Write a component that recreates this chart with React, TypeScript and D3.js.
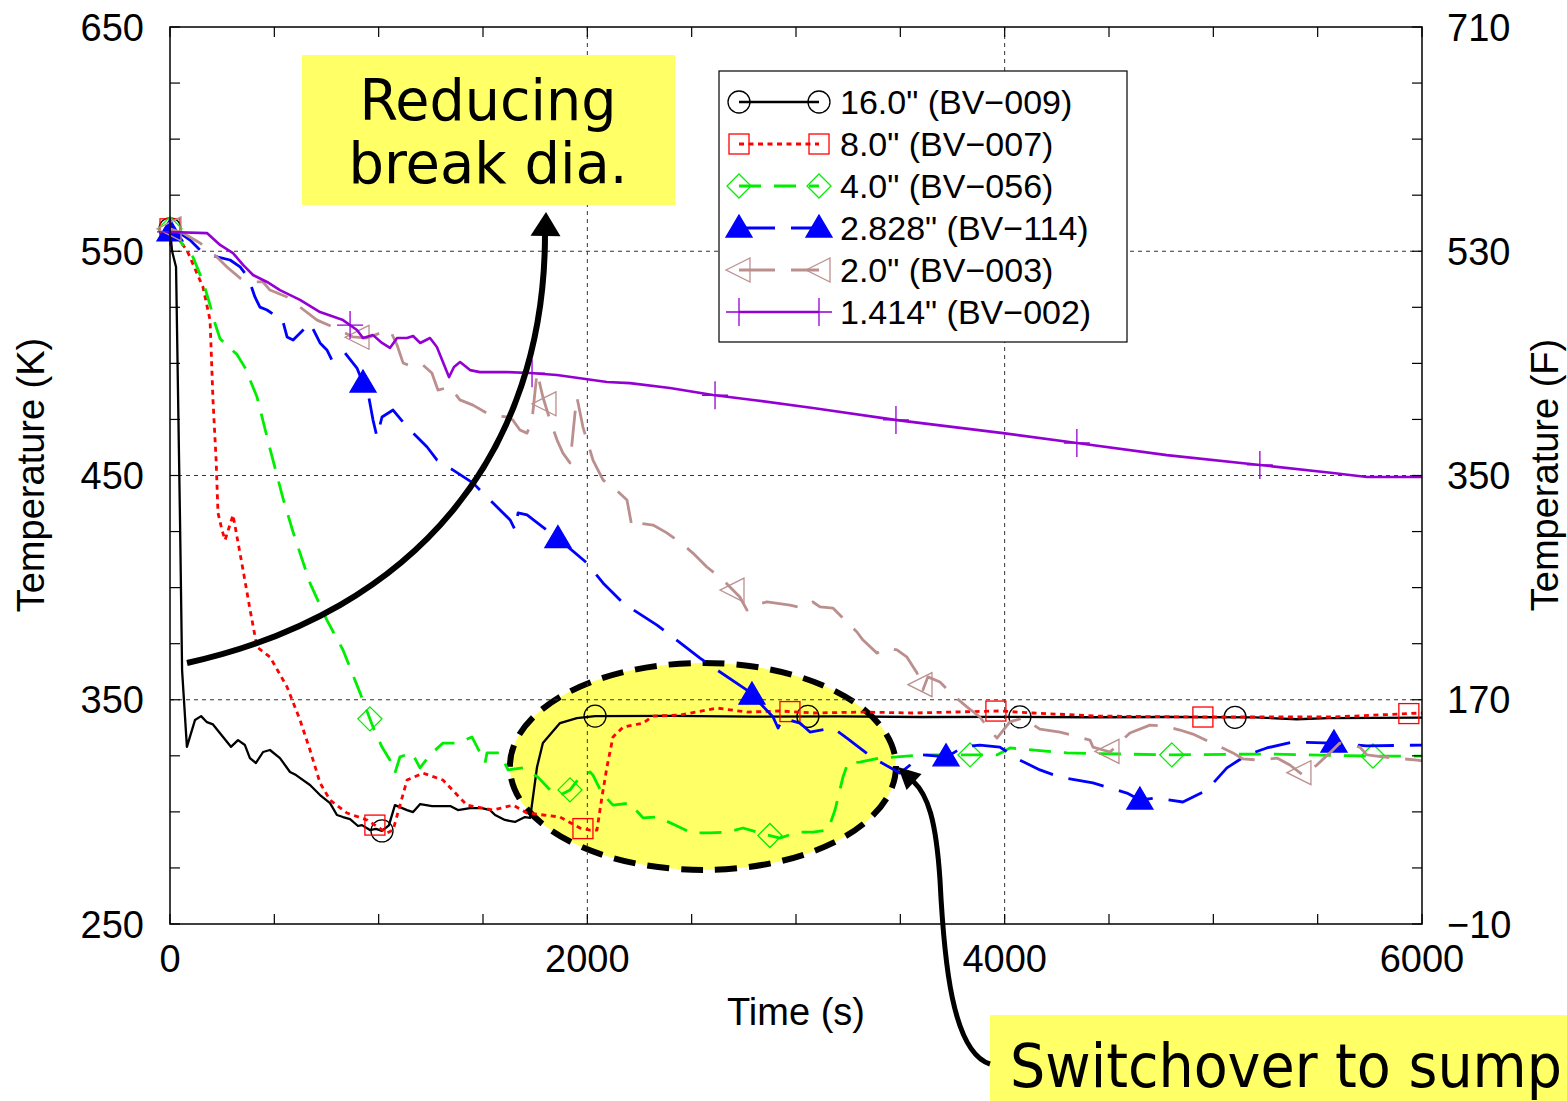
import React from 'react';
import * as d3 from 'd3';

type Pt = [number, number];

// Time (s) vs temperature (K) for each break size
const bv009: Pt[] = [[0,560],[10,550],[29,543],[48,430],[58,363],[81,329],[120,341],[149,342.7],[177,340],[206,339],[292,329],[326,332],[359,329.8],[383,324],[412,321.8],[446,326.7],[479,327.6],[527,324],[575,317.8],[604,316.4],[671,312],[719,307.5],[767,303.9],[800,298.6],[829,297.7],[863,296.8],[901,293.7],[920,294.1],[958,291.9],[987,292.4],[1016,291.5],[1049,294],[1078,303],[1136,300.8],[1165,299.9],[1199,303.5],[1256,302.6],[1343,302.6],[1380,300.8],[1438,301.7],[1495,301.7],[1534,300.8],[1558,298.6],[1605,296.4],[1653,295.5],[1701,297.7],[1726,297.3],[1759,320],[1787,330.7],[1869,339.6],[1950,341.8],[2037,342.7],[2400,342.8],[2800,342.5],[3200,342.6],[3600,342.3],[4000,342.4],[4400,342.2],[4800,342.3],[5200,342.1],[5400,341.3],[5550,341.8],[6000,342]];
const bv007: Pt[] = [[0,560],[81,550.5],[158,534],[192,519.3],[206,483.7],[221,456.9],[230,433.3],[249,425.7],[264,421.2],[302,432.4],[350,407.9],[384,390],[417,373.5],[479,369.1],[561,355.7],[623,341],[671,327.6],[719,312.9],[767,305.3],[848,299.5],[944,296.4],[1040,290.6],[1069,291.9],[1136,314.2],[1212,317.3],[1308,314.2],[1423,303],[1548,300.8],[1644,303],[1711,299.5],[1869,297.7],[1965,292.8],[2013,291.9],[2046,291.9],[2070,306.6],[2094,320],[2123,333.4],[2171,337.8],[2267,339.6],[2315,342.7],[2444,343.2],[2621,346.3],[2765,344.5],[2923,345],[3081,344.1],[3321,344.5],[3560,344.1],[3977,345],[4135,344.1],[4456,342.7],[4935,342.3],[5573,342.3],[6000,344.1]];
const bv056: Pt[] = [[0,560],[110,547.4],[160,536],[192,526],[215,518],[240,511],[273,508],[321,504],[360,498],[417,485],[479,462],[541,440],[589,425],[671,402],[752,385.5],[829,372.2],[911,353],[973,337.8],[1016,328.9],[1054,323.1],[1078,317.3],[1102,324.5],[1160,326.3],[1198,319.6],[1246,325.4],[1308,330.7],[1380,330.7],[1447,333.4],[1486,326.3],[1510,321.8],[1519,326.3],[1581,326.3],[1620,318.7],[1692,319.6],[1763,315.5],[1830,308.9],[1869,307.5],[1917,309.8],[1965,315.5],[2013,317.8],[2027,316.4],[2070,308.4],[2123,303],[2204,303.9],[2267,297.3],[2338,297.7],[2420,294.1],[2501,290.6],[2588,290.6],[2674,291],[2746,292.8],[2827,290.6],[2923,288.3],[3009,291],[3081,291],[3153,291.9],[3187,300.8],[3225,315.5],[3249,321.8],[3306,322.2],[3402,324],[3484,324.5],[3608,325.4],[3723,325.4],[3963,325.4],[4025,328.5],[4298,326.3],[4777,325.4],[5256,325.8],[5735,324.9],[6000,324.9]];
const bv114: Pt[] = [[0,558.6],[48,558.1],[96,555],[153,549.7],[230,547.4],[288,546.1],[336,543],[374,538.5],[407,529.6],[431,525.1],[465,523.8],[513,520.7],[537,520.2],[561,511.8],[590,510.4],[638,514.9],[671,518],[719,509.1],[752,506],[776,501.5],[800,503.7],[839,504.6],[896,497.9],[925,491.2],[949,486.8],[973,474.7],[992,467.2],[1016,476.1],[1069,479.2],[1136,471.6],[1184,467.2],[1232,462.7],[1280,456.9],[1357,452.4],[1453,446.6],[1548,437.7],[1630,430.2],[1654,425.7],[1668,433.3],[1711,432.4],[1787,427],[1869,421.2],[1998,411],[2075,402.1],[2171,393.1],[2334,383.3],[2396,378.9],[2540,368.6],[2621,363.3],[2765,354.3],[2827,348.5],[2890,342.3],[2914,337.4],[2938,341.8],[3019,339.6],[3067,335.6],[3177,337.4],[3244,332.9],[3369,324],[3498,317.3],[3608,325.4],[3723,324.5],[3800,328.9],[3881,329.8],[3977,328.9],[4073,323.1],[4169,318.7],[4265,315.5],[4423,312.9],[4586,308.4],[4648,305.3],[4730,306.2],[4854,304.4],[4969,309.7],[5065,319.6],[5161,325.4],[5256,328.5],[5381,331.1],[5573,330.7],[5735,329.4],[6000,329.8]];
const bv003: Pt[] = [[0,560],[62,558.1],[144,553.7],[225,547.4],[273,543],[336,538],[398,536.3],[446,536.3],[479,532.7],[561,529.6],[623,525.1],[705,519.3],[781,516.2],[877,511.8],[944,511.3],[1006,513.5],[1054,514.9],[1088,508.2],[1117,500.2],[1164,498.4],[1212,499.3],[1255,495.7],[1284,488.1],[1342,489.5],[1389,483.7],[1452,481.4],[1533,477],[1614,476.1],[1643,474.7],[1677,470.3],[1711,468.9],[1735,474.7],[1759,496.1],[1787,485],[1821,474.7],[1855,465.8],[1883,460],[1917,455.6],[1941,477.9],[1950,485],[1979,471.6],[2027,456.9],[2075,448],[2123,444.9],[2190,439.1],[2214,427],[2238,428.8],[2315,427.9],[2381,424.4],[2444,420.3],[2506,415.4],[2573,409.2],[2650,403.4],[2731,395.8],[2765,390],[2794,392.2],[2861,393.6],[2971,392.2],[3029,390.9],[3081,393.6],[3115,391.4],[3177,390.9],[3225,386.4],[3292,380.2],[3321,376.6],[3388,370.8],[3436,373.1],[3484,372.2],[3532,369],[3580,361.9],[3608,354.3],[3632,360.2],[3690,357.9],[3752,352.1],[3819,346.8],[3881,342.3],[3929,336.5],[3963,332.9],[4025,340.1],[4087,341.8],[4169,336.9],[4265,335.6],[4409,332],[4423,328.9],[4505,326.7],[4600,335.2],[4696,338.7],[4758,338.3],[4840,336.5],[4902,334.7],[4984,331.1],[5094,326.3],[5142,323.6],[5223,323.1],[5305,324],[5367,320.9],[5430,316.4],[5496,320.9],[5558,326.3],[5606,330.7],[5702,328.9],[5736,325.4],[5812,324.5],[5975,323.1],[6000,322.7]];
const bv002: Pt[] = [[0,558.6],[177,558.1],[240,552.8],[302,549.2],[350,543.9],[398,539.4],[465,536.3],[527,532.7],[623,528.3],[719,522.9],[829,519.3],[896,514.9],[925,511.3],[973,512.6],[1016,509.1],[1054,506.9],[1088,511.3],[1136,511.3],[1165,512.2],[1199,509.1],[1246,511.3],[1279,507.3],[1337,493.9],[1361,498.4],[1390,500.6],[1438,497],[1485,496.1],[1615,496.1],[1725,495.7],[1854,494.8],[2094,491.7],[2204,491.2],[2396,489],[2602,485.9],[2794,483.7],[3081,480.1],[3484,474.7],[3992,468.9],[4346,464.5],[4777,459.1],[5223,454.7],[5573,451.1],[5736,449.3],[6000,449.3]];

// Times at which each curve carries a point symbol
const bv009Marks = [0, 1016, 2037, 3057, 4073, 5104];
const bv007Marks = [0, 982, 1979, 2971, 3958, 4950, 5937];
const bv056Marks = [0, 958, 1917, 2875, 3834, 4801, 5765];
const bv114Marks = [0, 925, 1859, 2789, 3719, 4648, 5578];
const bv003Marks = [0, 901, 1797, 2698, 3599, 4495, 5415];
const bv002Marks = [0, 863, 1735, 2612, 3479, 4346, 5223];

const timeLabels = [0, 2000, 4000, 6000];
const kelvinLabels = [250, 350, 450, 550, 650];
const fahrenheitLabels = [-10, 170, 350, 530, 710];
const gridTimes = [2000, 4000];
const gridKelvin = [350, 450, 550];

// Pump switchover window (time span and temperature span of the highlight)
const switchoverTime: [number, number] = [1629, 3479];
const switchoverKelvin: [number, number] = [274.1, 366.4];

type MarkerKind = 'circle' | 'square' | 'diamond' | 'triUp' | 'triLeft' | 'plus';

const series = [
  { name: '16.0" (BV\u2212009)', data: bv009, marks: bv009Marks, color: '#000000', dash: undefined, width: 2.3, marker: 'circle' as MarkerKind },
  { name: '8.0" (BV\u2212007)', data: bv007, marks: bv007Marks, color: '#ff0000', dash: '5,4.5', width: 2.8, marker: 'square' as MarkerKind },
  { name: '4.0" (BV\u2212056)', data: bv056, marks: bv056Marks, color: '#00ee00', dash: '22,13', width: 2.8, marker: 'diamond' as MarkerKind },
  { name: '2.828" (BV\u2212114)', data: bv114, marks: bv114Marks, color: '#0000ff', dash: '36,16', width: 2.8, marker: 'triUp' as MarkerKind },
  { name: '2.0" (BV\u2212003)', data: bv003, marks: bv003Marks, color: '#bc8f8f', dash: '36,16', width: 2.8, marker: 'triLeft' as MarkerKind },
  { name: '1.414" (BV\u2212002)', data: bv002, marks: bv002Marks, color: '#9400d3', dash: undefined, width: 2.6, marker: 'plus' as MarkerKind },
];

const W = 1567;
const H = 1101;
const xS = d3.scaleLinear().domain([0, 6000]).range([170, 1422]);
const yS = d3.scaleLinear().domain([250, 650]).range([924, 27]);
const fS = d3.scaleLinear().domain([-10, 710]).range([924, 27]);

const lineGen = d3.line<Pt>().x(d => xS(d[0])).y(d => yS(d[1]));
const byTime = d3.bisector((d: Pt) => d[0]);

function kelvinAt(data: Pt[], t: number): number {
  const i = byTime.right(data, t);
  if (i <= 0) return data[0][1];
  if (i >= data.length) return data[data.length - 1][1];
  const [t0, k0] = data[i - 1];
  const [t1, k1] = data[i];
  return k0 + ((k1 - k0) * (t - t0)) / (t1 - t0);
}

function Marker({ kind, x, y, color }: { kind: MarkerKind; x: number; y: number; color: string }) {
  const sw = 1.3;
  switch (kind) {
    case 'circle':
      return <circle cx={x} cy={y} r={11} fill="none" stroke={color} strokeWidth={sw} />;
    case 'square':
      return <rect x={x - 10} y={y - 10} width={20} height={20} fill="none" stroke={color} strokeWidth={sw} />;
    case 'diamond':
      return <polygon points={`${x},${y - 12} ${x + 12},${y} ${x},${y + 12} ${x - 12},${y}`} fill="none" stroke={color} strokeWidth={sw} />;
    case 'triUp':
      return <polygon points={`${x},${y - 13} ${x + 13},${y + 9} ${x - 13},${y + 9}`} fill={color} stroke={color} strokeWidth={sw} />;
    case 'triLeft':
      return <polygon points={`${x - 13},${y} ${x + 11},${y - 12} ${x + 11},${y + 12}`} fill="none" stroke={color} strokeWidth={sw} />;
    case 'plus':
      return <path d={`M${x - 13},${y}H${x + 13}M${x},${y - 14}V${y + 14}`} fill="none" stroke={color} strokeWidth={sw} />;
  }
}

function arrowHead(tip: [number, number], from: [number, number], len: number, half: number) {
  const dx = tip[0] - from[0];
  const dy = tip[1] - from[1];
  const n = Math.hypot(dx, dy);
  const ux = dx / n;
  const uy = dy / n;
  const bx = tip[0] - ux * len;
  const by = tip[1] - uy * len;
  const px = -uy * half;
  const py = ux * half;
  return `${tip[0]},${tip[1]} ${bx + px},${by + py} ${bx - px},${by - py}`;
}

export default function App() {
  const [x0, x1] = xS.range();
  const [yb, yt] = yS.range();
  const tickLen = 10;
  const minorK = d3.range(250, 651, 25);
  const minorT = d3.range(0, 6001, 500);
  const font = "'Liberation Sans', Arial, Helvetica, sans-serif";
  const calloutFont = "'DejaVu Sans Condensed', 'DejaVu Sans', Verdana, sans-serif";

  const ex0 = xS(switchoverTime[0]);
  const ex1 = xS(switchoverTime[1]);
  const ey0 = yS(switchoverKelvin[1]);
  const ey1 = yS(switchoverKelvin[0]);

  const legendX = 719;
  const legendY = 71;
  const legendW = 408;
  const legendH = 271;
  const rowH = 42;

  return (
    <svg
      width={W}
      height={H}
      viewBox={`0 0 ${W} ${H}`}
      style={{ position: 'absolute', left: 0, top: 0, display: 'block' }}
      fontFamily={font}
    >
      <rect width={W} height={H} fill="#ffffff" />

      {/* highlighted switchover window */}
      <ellipse
        cx={(ex0 + ex1) / 2}
        cy={(ey0 + ey1) / 2}
        rx={(ex1 - ex0) / 2}
        ry={(ey1 - ey0) / 2}
        fill="#ffff66"
        stroke="#000"
        strokeWidth={6}
        strokeDasharray="22,12"
      />

      {/* grid */}
      <g stroke="#333" strokeWidth={1} strokeDasharray="4,4" fill="none">
        {gridTimes.map(t => (
          <line key={`gx${t}`} x1={xS(t)} x2={xS(t)} y1={yt} y2={yb} />
        ))}
        {gridKelvin.map(k => (
          <line key={`gy${k}`} x1={x0} x2={x1} y1={yS(k)} y2={yS(k)} />
        ))}
      </g>

      {/* curves */}
      {series.map(s => (
        <g key={s.name}>
          <path
            d={lineGen(s.data) || ''}
            fill="none"
            stroke={s.color}
            strokeWidth={s.width}
            strokeDasharray={s.dash}
            strokeLinejoin="round"
          />
          {s.marks.map(t => (
            <Marker key={t} kind={s.marker} x={xS(t)} y={yS(kelvinAt(s.data, t))} color={s.color} />
          ))}
        </g>
      ))}

      {/* frame and ticks */}
      <rect x={x0} y={yt} width={x1 - x0} height={yb - yt} fill="none" stroke="#000" strokeWidth={1.5} />
      <g stroke="#000" strokeWidth={1.2}>
        {minorK.map(k => (
          <g key={`tk${k}`}>
            <line x1={x0} x2={x0 + tickLen} y1={yS(k)} y2={yS(k)} />
            <line x1={x1} x2={x1 - tickLen} y1={yS(k)} y2={yS(k)} />
          </g>
        ))}
        {minorT.map(t => (
          <g key={`tt${t}`}>
            <line x1={xS(t)} x2={xS(t)} y1={yb} y2={yb - tickLen} />
            <line x1={xS(t)} x2={xS(t)} y1={yt} y2={yt + tickLen} />
          </g>
        ))}
      </g>

      {/* tick labels */}
      <g fontSize={38} fill="#000">
        {kelvinLabels.map(k => (
          <text key={`lk${k}`} x={x0 - 26} y={yS(k)} dy="0.36em" textAnchor="end">
            {k}
          </text>
        ))}
        {fahrenheitLabels.map(f => (
          <text key={`lf${f}`} x={x1 + 25} y={fS(f)} dy="0.36em" textAnchor="start">
            {f < 0 ? `\u2212${Math.abs(f)}` : f}
          </text>
        ))}
        {timeLabels.map(t => (
          <text key={`lt${t}`} x={xS(t)} y={972} textAnchor="middle">
            {t}
          </text>
        ))}
        <text x={796} y={1025} textAnchor="middle">Time (s)</text>
        <text transform="translate(44,475) rotate(-90)" textAnchor="middle">Temperature (K)</text>
        <text transform="translate(1558,475) rotate(-90)" textAnchor="middle">Temperature (F)</text>
      </g>

      {/* legend */}
      <rect x={legendX} y={legendY} width={legendW} height={legendH} fill="#fff" stroke="#000" strokeWidth={1.2} />
      {series.map((s, i) => {
        const cy = legendY + 31 + i * rowH;
        const lx0 = 739;
        const lx1 = 819;
        return (
          <g key={`lg${s.name}`}>
            <line x1={lx0} x2={lx1} y1={cy} y2={cy} stroke={s.color} strokeWidth={s.width} strokeDasharray={s.dash} />
            <Marker kind={s.marker} x={lx0} y={cy} color={s.color} />
            <Marker kind={s.marker} x={lx1} y={cy} color={s.color} />
            <text x={840} y={cy} dy="0.36em" fontSize={34} fill="#000">
              {s.name}
            </text>
          </g>
        );
      })}

      {/* callout: break size trend */}
      <rect x={302} y={55} width={373} height={150} fill="#ffff66" />
      <g fontFamily={calloutFont} fontSize={57} fill="#000" textAnchor="middle">
        <text x={488} y={120} textLength={257} lengthAdjust="spacingAndGlyphs">Reducing</text>
        <text x={488} y={183} textLength={279} lengthAdjust="spacingAndGlyphs">break dia.</text>
      </g>
      <path d="M187,663 C417,612 545,452 545,234" fill="none" stroke="#000" strokeWidth={6} />
      <polygon points={arrowHead([546, 212], [545, 260], 24, 15)} fill="#000" />

      {/* callout: switchover to sump */}
      <rect x={990} y={1015} width={W - 990} height={H - 1015} fill="#ffff66" />
      <text
        x={1010}
        y={1087}
        fontFamily={calloutFont}
        fontSize={60}
        fill="#000"
        textLength={552}
        lengthAdjust="spacingAndGlyphs"
      >
        Switchover to sump
      </text>
      <path d="M990,1064 C952,1052 944,960 940,880 C936,820 928,795 913,781" fill="none" stroke="#000" strokeWidth={5} />
      <polygon points={arrowHead([898, 767], [928, 795], 22, 11)} fill="#000" />
    </svg>
  );
}
